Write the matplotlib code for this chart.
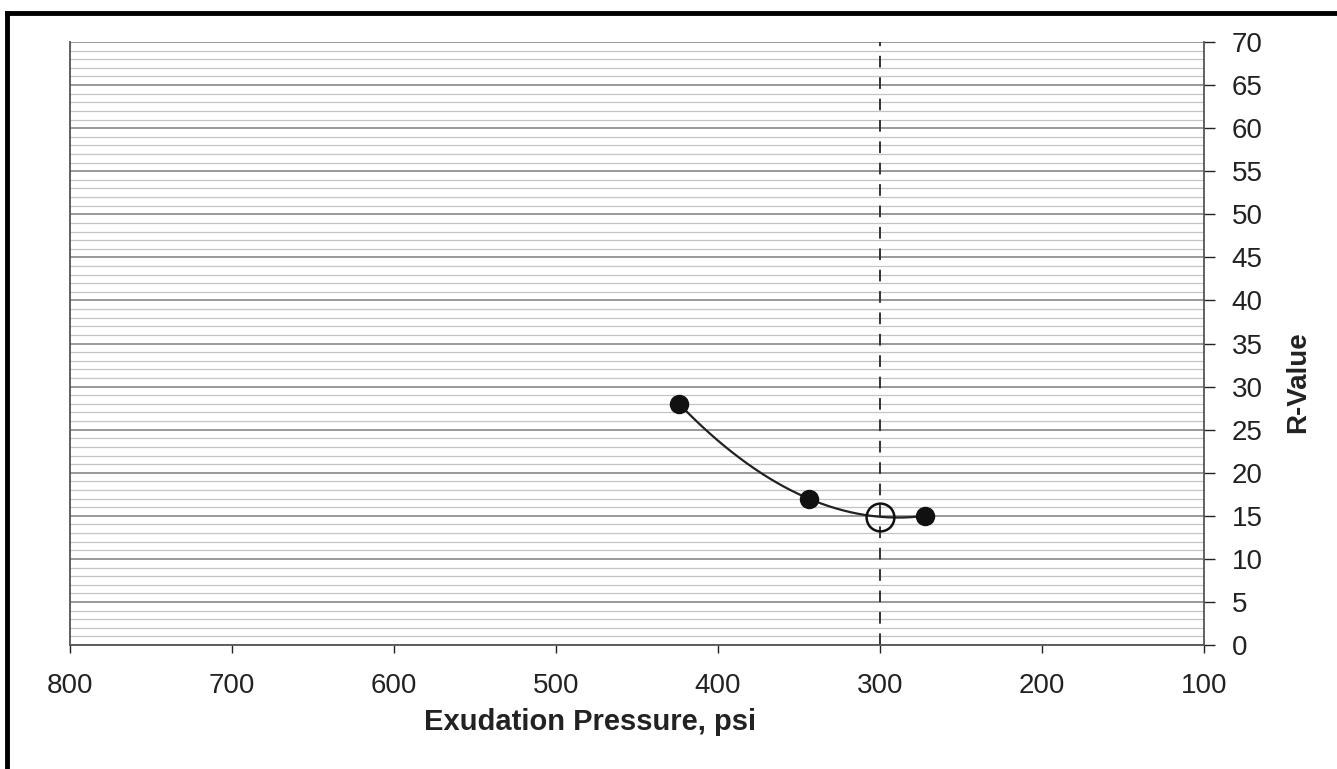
import numpy as np
from matplotlib import pyplot as plt
from matplotlib.ticker import MultipleLocator

# test points
pressure = [424, 344, 272]
rvalue = [28, 17, 15]
design_pressure = 300

xTicks = [800, 700, 600, 500, 400, 300, 200, 100]
yTicks = list(range(0, 75, 5))

plt.rcParams['font.family'] = ['Liberation Sans', 'DejaVu Sans']

fig = plt.figure(figsize=(13.37, 7.69), dpi=100)
ax = fig.add_axes([0.0524, 0.1612, 0.848, 0.7842])

# fitted curve through the points (Excel-style trendline)
coef = np.polyfit(pressure, rvalue, 2)
xs = np.linspace(min(pressure), max(pressure), 200)
ax.plot(xs, np.polyval(coef, xs), color='#222222', lw=1.6, zorder=3)
ax.plot(pressure, rvalue, 'o', color='#111111', ms=13, zorder=4)

design_r = np.polyval(coef, design_pressure)
ax.axvline(design_pressure, color='#333333', lw=1.4, ls=(0, (6, 5)), zorder=2)
ax.plot([design_pressure], [design_r], 'o', mfc='none', mec='#111111', mew=1.8, ms=20, zorder=5)

ax.set_xlim(800, 100)
ax.set_ylim(0, 70)
ax.set_xticks(xTicks)
ax.set_yticks(yTicks)
ax.yaxis.set_minor_locator(MultipleLocator(1))
ax.grid(which='major', axis='y', color='#888888', lw=1.2)
ax.grid(which='minor', axis='y', color='#c4c4c4', lw=0.9)
ax.set_axisbelow(True)

ax.yaxis.tick_right()
ax.yaxis.set_label_position('right')
ax.tick_params(axis='both', which='major', labelsize=20, colors='#222222', length=8, width=1, direction='out', pad=12)
ax.tick_params(axis='y', which='minor', length=0)
ax.tick_params(axis='x', length=6, pad=14)
for side in ['left', 'bottom', 'right']:
    ax.spines[side].set_color('#555555')
    ax.spines[side].set_linewidth(1.3)
ax.spines['top'].set_visible(False)

ax.set_xlabel('Exudation Pressure, psi', fontsize=21, fontweight='bold', color='#222222')
ax.set_ylabel('R-Value', fontsize=20, fontweight='bold', color='#222222')
ax.xaxis.set_label_coords(0.459, -0.105)
ax.yaxis.set_label_coords(1.072, 0.436)

# outer frame (left and top edge of scanned box)
fig.add_artist(plt.Line2D([0.0055, 0.0055], [0.0, 0.983], color='black', lw=3.5))
fig.add_artist(plt.Line2D([0.0055, 1.0], [0.983, 0.983], color='black', lw=3.5))

plt.savefig('out.png', dpi=100)
